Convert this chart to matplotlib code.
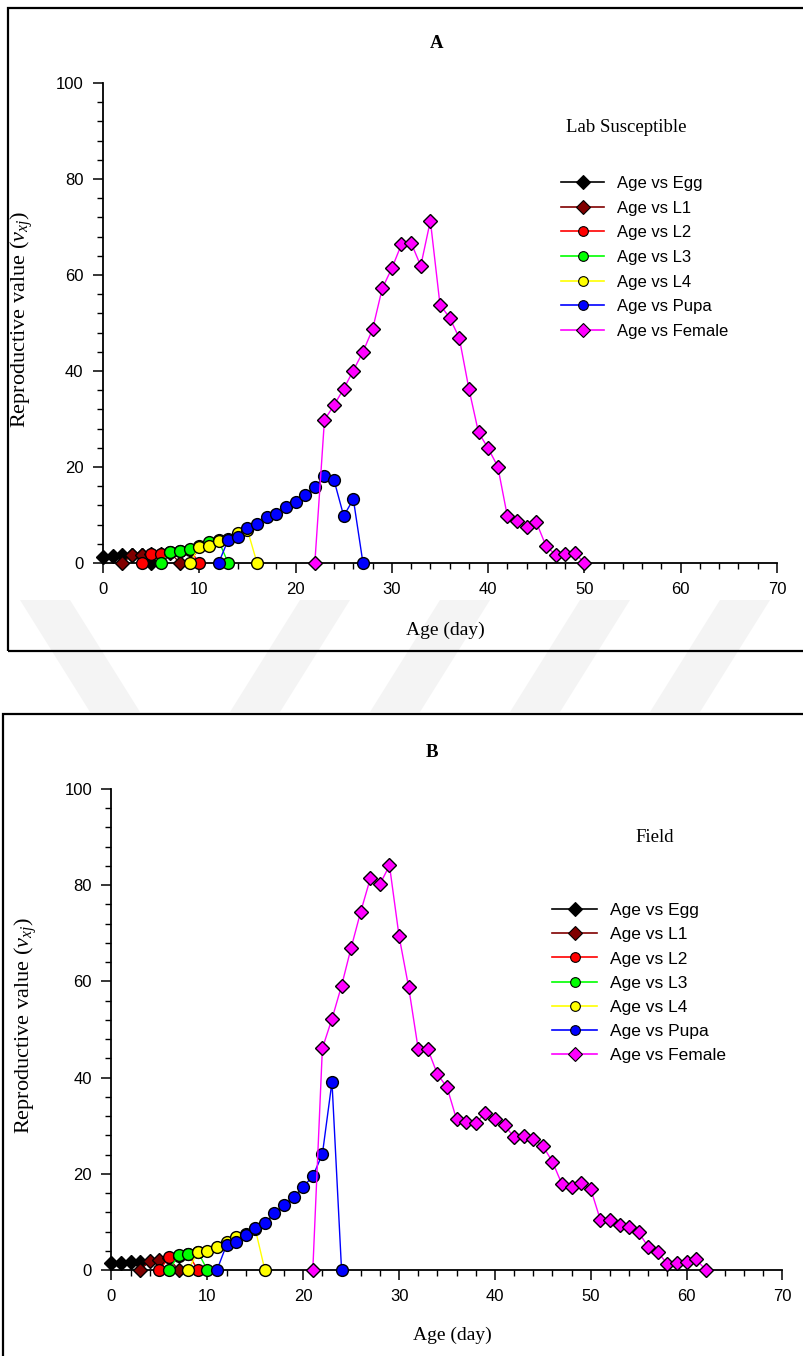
import matplotlib
matplotlib.use('Agg')
import matplotlib.pyplot as plt
from matplotlib.lines import Line2D
from matplotlib.patches import Rectangle, Polygon

# ---------------- data ----------------
stage_labels = ['Age vs Egg', 'Age vs L1', 'Age vs L2', 'Age vs L3',
                'Age vs L4', 'Age vs Pupa', 'Age vs Female']
stage_colors = ['#000000', '#800000', '#ff0000', '#00ff00',
                '#ffff00', '#0000ff', '#ff00ff']

# Panel A : Lab Susceptible
a_egg_age = [0, 1, 2, 3, 4, 5]
a_egg_val = [1.3, 1.4, 1.7, 1.6, 1.7, 0]
a_l1_age = [2, 3, 4, 5, 6, 7, 8]
a_l1_val = [0, 1.6, 1.6, 1.8, 1.9, 2.1, 0]
a_l2_age = [4, 5, 6, 7, 8, 9, 10]
a_l2_val = [0, 1.9, 1.9, 2.2, 2.4, 2.8, 0]
a_l3_age = [6, 7, 8, 9, 10, 11, 12, 13]
a_l3_val = [0, 2.3, 2.4, 2.9, 3.5, 4.3, 4.7, 0]
a_l4_age = [9, 10, 11, 12, 13, 14, 15, 16]
a_l4_val = [0, 3.3, 3.5, 4.5, 5.0, 6.3, 6.9, 0]
a_pupa_age = [12, 13, 14, 15, 16, 17, 18, 19, 20, 21, 22, 23, 24, 25, 26, 27]
a_pupa_val = [0, 4.8, 5.5, 7.2, 8.1, 9.6, 10.3, 11.6, 12.8, 14.2, 15.8,
              18.1, 17.2, 9.8, 13.3, 0]
a_fem_age = list(range(22, 51))
a_fem_val = [0, 29.8, 32.9, 36.3, 40.1, 44.0, 48.7, 57.2, 61.4, 66.4, 66.7,
             61.9, 71.3, 53.8, 51.1, 46.9, 36.3, 27.2, 23.9, 20.1, 9.7, 8.8,
             7.6, 8.5, 3.6, 1.7, 1.9, 2.1, 0]

# Panel B : Field
b_egg_age = [0, 1, 2, 3]
b_egg_val = [1.4, 1.5, 1.7, 1.7]
b_l1_age = [3, 4, 5, 6, 7]
b_l1_val = [0, 1.9, 2.1, 2.4, 0]
b_l2_age = [5, 6, 7, 8, 9]
b_l2_val = [0, 2.6, 3.0, 3.4, 0]
b_l3_age = [6, 7, 8, 9, 10]
b_l3_val = [0, 3.1, 3.4, 3.8, 0]
b_l4_age = [8, 9, 10, 11, 12, 13, 14, 15, 16]
b_l4_val = [0, 3.7, 4.0, 4.8, 5.9, 6.8, 7.5, 8.5, 0]
b_pupa_age = [11, 12, 13, 14, 15, 16, 17, 18, 19, 20, 21, 22, 23, 24]
b_pupa_val = [0, 5.2, 5.8, 7.3, 8.7, 9.7, 11.8, 13.5, 15.1, 17.3, 19.5,
              24.1, 39.1, 0]
b_fem_age = list(range(21, 63))
b_fem_val = [0, 46.1, 52.2, 59.1, 67.0, 74.5, 81.4, 80.2, 84.1, 69.4,
             58.8, 45.9, 45.9, 40.7, 38.0, 31.3, 30.8, 30.5, 32.7, 31.3,
             30.1, 27.6, 27.9, 27.2, 25.8, 22.5, 17.8, 17.3, 18.0, 16.8,
             10.4, 10.3, 9.4, 8.9, 7.8, 4.8, 3.7, 1.2, 1.4, 1.7, 2.2, 0]

x_ticks = [0, 10, 20, 30, 40, 50, 60, 70]
y_ticks = [0, 20, 40, 60, 80, 100]

# ---------------- figure ----------------
W, H = 804, 1356
fig = plt.figure(figsize=(W / 100, H / 100), dpi=100)
fig.patch.set_facecolor('white')

SERIF = ['Liberation Serif', 'DejaVu Serif']
SANS = ['Liberation Sans', 'DejaVu Sans']
plt.rcParams['mathtext.fontset'] = 'custom'
plt.rcParams['mathtext.rm'] = 'Liberation Serif'
plt.rcParams['mathtext.it'] = 'Liberation Serif:italic'


def fx(px):
    return px / W


def fy(py):
    return 1 - py / H


# faint watermark strips (background)
wm = '#f4f4f4'
strips = [[(20, 600), (70, 600), (140, 712), (90, 712)],
          [(300, 600), (350, 600), (280, 712), (230, 712)],
          [(440, 600), (490, 600), (420, 712), (370, 712)],
          [(580, 600), (630, 600), (560, 712), (510, 712)],
          [(720, 600), (770, 600), (700, 712), (650, 712)]]
for s in strips:
    fig.patches.append(Polygon([(fx(x), fy(y)) for x, y in s], closed=True,
                               transform=fig.transFigure, facecolor=wm,
                               edgecolor='none', zorder=-5))

# panel frames
fig.patches.append(Rectangle((fx(8), fy(651)), fx(804 + 10) - fx(8),
                             fy(8) - fy(651), transform=fig.transFigure,
                             fill=False, edgecolor='black', linewidth=1.6,
                             zorder=-1))
fig.patches.append(Rectangle((fx(3), fy(1356 + 10)), fx(804 + 10) - fx(3),
                             fy(714) - fy(1366), transform=fig.transFigure,
                             fill=False, edgecolor='black', linewidth=1.6,
                             zorder=-1))


def panel(ax_px, series, title, title_xy, sub, sub_xy, leg_xy, ylab_xy,
          xlab_xy, leg_fs, leg_sp):
    l, r, t, b = ax_px
    ax = fig.add_axes([fx(l), fy(b), fx(r) - fx(l), fy(t) - fy(b)])
    ax.set_facecolor('none')
    markers = ['D', 'D', 'o', 'o', 'o', 'o', 'D']
    msizes = [7.5, 7.5, 8.5, 8.5, 8.5, 8.5, 7.5]
    for i, (xs, ys) in enumerate(series):
        ax.plot(xs, ys, color=stage_colors[i], linewidth=1.0,
                marker=markers[i], markersize=msizes[i],
                markerfacecolor=stage_colors[i], markeredgecolor='black',
                markeredgewidth=1.0, zorder=3 + i, clip_on=False)
    ax.set_xlim(0, 70)
    ax.set_ylim(0, 100)
    ax.set_xticks(x_ticks)
    ax.set_yticks(y_ticks)
    ax.set_xticks(range(0, 71, 2), minor=True)
    ax.set_yticks(range(0, 101, 4), minor=True)
    for sp in ['top', 'right']:
        ax.spines[sp].set_visible(False)
    for sp in ['left', 'bottom']:
        ax.spines[sp].set_linewidth(1.3)
    ax.tick_params(which='major', direction='out', length=7, width=1.1,
                   labelsize=12, pad=7)
    ax.tick_params(which='minor', direction='out', length=4, width=1.0)
    for lab in ax.get_xticklabels() + ax.get_yticklabels():
        lab.set_fontfamily(SANS)
    handles = [Line2D([], [], color=stage_colors[i], linewidth=1.2,
                      marker=markers[i], markersize=7,
                      markerfacecolor=stage_colors[i],
                      markeredgecolor='black', markeredgewidth=0.8)
               for i in range(7)]
    ax.legend(handles, stage_labels, loc='upper left',
              bbox_to_anchor=(fx(leg_xy[0]), fy(leg_xy[1])),
              bbox_transform=fig.transFigure, frameon=False,
              handlelength=2.6, handletextpad=0.75, labelspacing=leg_sp,
              borderpad=0, borderaxespad=0,
              prop={'family': SANS, 'size': leg_fs})
    fig.text(fx(title_xy[0]), fy(title_xy[1]), title, ha='center',
             va='center', fontsize=13.5, fontweight='bold', family=SERIF)
    fig.text(fx(sub_xy[0]), fy(sub_xy[1]), sub, ha='center', va='center',
             fontsize=13.5, family=SERIF)
    fig.text(fx(ylab_xy[0]), fy(ylab_xy[1]),
             r'Reproductive value ($v_{xj}$)', ha='center', va='center',
             rotation=90, fontsize=16, family=SERIF)
    fig.text(fx(xlab_xy[0]), fy(xlab_xy[1]), 'Age (day)', ha='center',
             va='center', fontsize=14, family=SERIF)
    return ax


series_a = [(a_egg_age, a_egg_val), (a_l1_age, a_l1_val),
            (a_l2_age, a_l2_val), (a_l3_age, a_l3_val),
            (a_l4_age, a_l4_val), (a_pupa_age, a_pupa_val),
            (a_fem_age, a_fem_val)]
series_b = [(b_egg_age, b_egg_val), (b_l1_age, b_l1_val),
            (b_l2_age, b_l2_val), (b_l3_age, b_l3_val),
            (b_l4_age, b_l4_val), (b_pupa_age, b_pupa_val),
            (b_fem_age, b_fem_val)]

panel((103, 777, 83, 563), series_a, 'A', (437, 43), 'Lab Susceptible',
      (626, 127), (561, 176), (22, 320), (445, 630), 12, 0.58)
panel((111.5, 782.5, 789, 1270), series_b, 'B', (432, 752), 'Field',
      (655, 837), (552, 903), (26, 1026), (452, 1335), 12.5, 0.52)

fig.savefig('out.png', dpi=100, facecolor='white')
